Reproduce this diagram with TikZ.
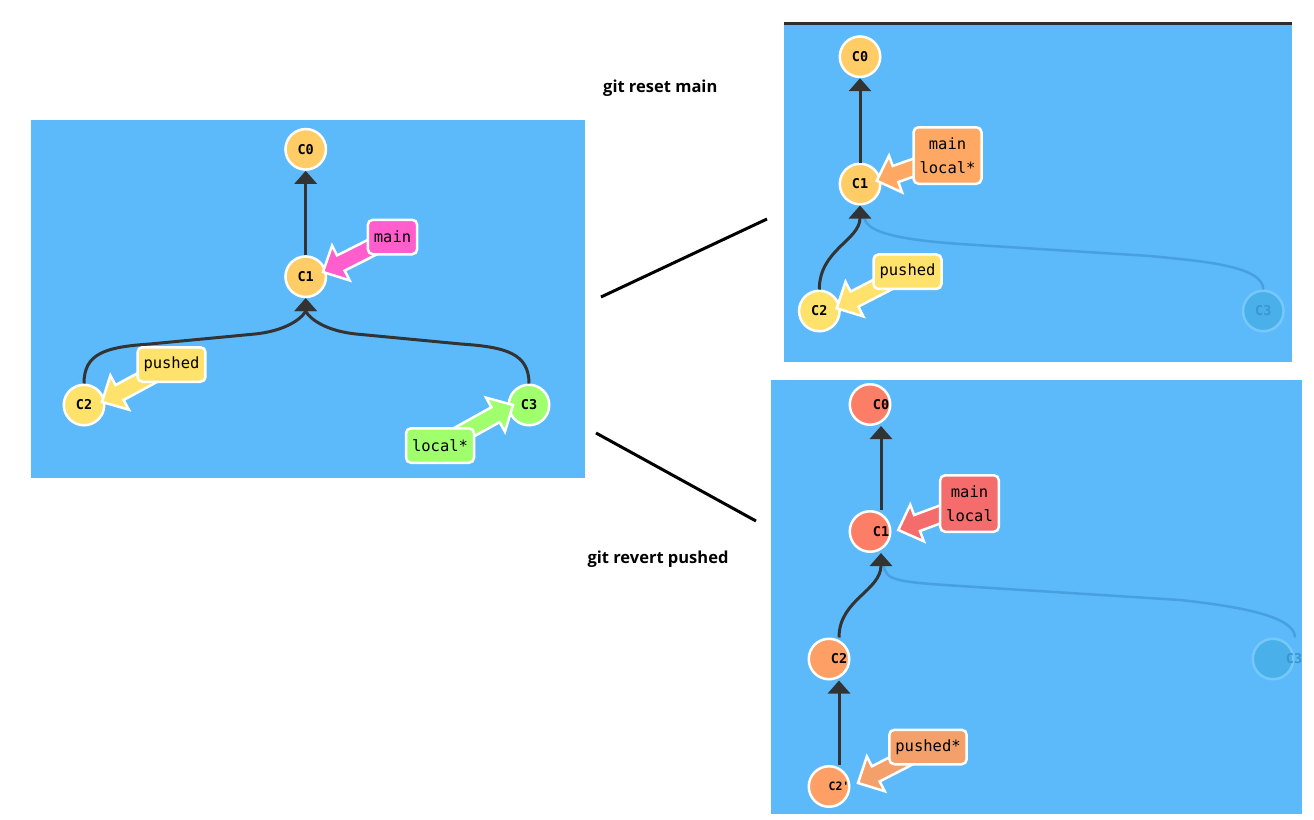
\documentclass[tikz,border=0pt]{standalone}
\usepackage{fontspec}
\setmonofont{DejaVu Sans Mono}
\newfontfamily\cmdfont{Open Sans}
\usetikzlibrary{calc,arrows.meta}

\definecolor{bgblue}{RGB}{92,186,250}
\definecolor{cOrange}{RGB}{255,204,102}
\definecolor{cYellow}{RGB}{255,226,107}
\definecolor{cGreen}{RGB}{160,255,108}
\definecolor{cMagenta}{RGB}{255,94,204}
\definecolor{cOrangeLbl}{RGB}{255,168,100}
\definecolor{cRed}{RGB}{252,126,102}
\definecolor{cSalmon}{RGB}{254,160,102}
\definecolor{cRedLbl}{RGB}{245,108,108}
\definecolor{cPushedStar}{RGB}{244,160,106}
\definecolor{fadeFill}{RGB}{74,176,234}
\definecolor{fadeDraw}{RGB}{118,200,250}
\definecolor{fadeText}{RGB}{60,150,205}
\definecolor{fadeLine}{RGB}{72,160,222}
\definecolor{edgeGray}{RGB}{51,51,51}
\definecolor{topLine}{RGB}{45,45,45}

\newcommand\fatarrow[3]{%
  \coordinate (fah) at ($(#2)!20pt!(#1)$);
  \path[fill=#3, draw=white, line width=2.5pt, line join=miter, miter limit=4]
    ($(#1)!8.5pt!90:(#2)$) -- ($(fah)!8.5pt!-90:(#1)$) -- ($(fah)!19.5pt!-90:(#1)$)
    -- (#2) -- ($(fah)!19.5pt!90:(#1)$) -- ($(fah)!8.5pt!90:(#1)$)
    -- ($(#1)!8.5pt!-90:(#2)$) -- cycle;
}

\tikzset{
  commit/.style={circle, draw=white, line width=2.5pt, minimum size=40.5pt, inner sep=0pt,
    font=\ttfamily\bfseries\fontsize{13.5}{13.5}\selectfont, text=black},
  fadedcommit/.style={commit, fill=fadeFill, draw=fadeDraw, text=fadeText},
  ctext/.style={inner sep=0pt, font=\ttfamily\bfseries\fontsize{13.5}{13.5}\selectfont, text=black},
  edge/.style={draw=edgeGray, line width=3pt, -{Triangle[width=22pt,length=13pt]}},
  fadededge/.style={draw=fadeLine, line width=2.5pt},
  branch/.style={draw=white, line width=2.5pt, rounded corners=5pt, inner xsep=6pt, inner ysep=9pt,
    minimum height=34.5pt, align=center, font=\ttfamily\fontsize{15.5}{24}\selectfont, text=black},
  twoline/.style={minimum height=56.5pt},
  cmd/.style={font=\cmdfont\bfseries\fontsize{16.5}{20}\selectfont, text=black, inner sep=0pt, anchor=base west},
  sep/.style={draw=black, line width=3pt},
}

\begin{document}
\begin{tikzpicture}[x=1pt, y=-1pt]
\useasboundingbox (0,0) rectangle (1314,819);

% ---------------- left panel ----------------
\fill[bgblue] (31,120) rectangle (585,478);
\node[commit, fill=cOrange] (L0) at (305.7,149.3) {C0};
\node[commit, fill=cOrange] (L1) at (305.7,276.7) {C1};
\node[commit, fill=cYellow] (L2) at (84,405) {C2};
\node[commit, fill=cGreen] (L3) at (529,405) {C3};
\draw[edge] (L1) -- (L0);
\draw[edge] (L2.north) .. controls +(0,-30) and +(-45,3) .. (150,344) -- (255,334)
   .. controls +(38,-4) and +(0,15) .. (L1.south);
\draw[edge] (L3.north) .. controls +(0,-30) and +(45,3) .. (461,344) -- (356,334)
   .. controls +(-38,-4) and +(0,15) .. (L1.south);
\coordinate (lmainc) at (392.5,237);
\coordinate (lpushc) at (171.5,364.5);
\coordinate (llocc) at (440,445.5);
\coordinate (lmaint) at (323,272);
\coordinate (lpusht) at (102,402);
\coordinate (lloct) at (513,405);
\fatarrow{lmainc}{lmaint}{cMagenta}
\fatarrow{lpushc}{lpusht}{cYellow}
\fatarrow{llocc}{lloct}{cGreen}
\node[branch, fill=cMagenta] (lmain) at (lmainc) {main};
\node[branch, fill=cYellow] (lpush) at (lpushc) {pushed};
\node[branch, fill=cGreen] (lloc) at (llocc) {local*};

% ---------------- commands and separators ----------------
\node[cmd] (cmdreset) at (603,92.3) {git reset main};
\node[cmd] (cmdrevert) at (587.3,563.3) {git revert pushed};
\coordinate (s1a) at (601,297);
\coordinate (s1b) at (767,219);
\coordinate (s2a) at (596,433);
\coordinate (s2b) at (756,521);
\draw[sep] (s1a) -- (s1b);
\draw[sep] (s2a) -- (s2b);

% ---------------- top right panel ----------------
\fill[bgblue] (784,22) rectangle (1292,361.7);
\coordinate (tla) at (784,23.5);
\coordinate (tlb) at (1292,23.5);
\draw[line width=3pt, draw=topLine] (tla) -- (tlb);
\node[commit, fill=cOrange] (T0) at (860,56.7) {C0};
\node[commit, fill=cOrange] (T1) at (860,184) {C1};
\node[commit, fill=cYellow] (T2) at (819.3,311) {C2};
\node[fadedcommit] (T3) at (1263.3,311) {C3};
\draw[fadededge] (T3.north) .. controls +(0,-24) and +(50,5) .. (1150,256) -- (960,244)
   .. controls +(-70,-5) and +(0,15) .. ($(T1.south)+(4,10)$);
\draw[edge] (T1) -- (T0);
\draw[edge] (T2.north) .. controls +(0,-40) and +(0,35) .. (T1.south);
\coordinate (tmainc) at (947.5,155.5);
\coordinate (tpushc) at (907.5,271.7);
\coordinate (tmaint) at (876.7,180.7);
\coordinate (tpusht) at (836.7,308.3);
\fatarrow{tmainc}{tmaint}{cOrangeLbl}
\fatarrow{tpushc}{tpusht}{cYellow}
\node[branch, twoline, fill=cOrangeLbl] (tmain) at (tmainc) {main\\local*};
\node[branch, fill=cYellow] (tpush) at (tpushc) {pushed};

% ---------------- bottom right panel ----------------
\begin{scope}
\clip (771,380) rectangle (1302,814);
\fill[bgblue] (771,380) rectangle (1302,814);
\node[fadedcommit] (B3) at (1273,659) {};
\node[ctext, text=fadeText] (B3t) at (1294,659) {C3};
\node[commit, fill=cRed] (B0) at (870,404.5) {};
\node[commit, fill=cRed] (B1) at (870,531.5) {};
\node[commit, fill=cSalmon] (B2) at (829,659) {};
\node[commit, fill=cSalmon] (B2p) at (829,786.5) {};
\draw[fadededge] ($(B3.north)+(22,0)$) .. controls +(0,-22) and +(55,6) .. (1180,600) -- (960,586)
   .. controls +(-60,-4) and +(0,16) .. ($(B1.south)+(14,12)$);
\node[ctext] (B0t) at (881,404.5) {C0};
\node[ctext] (B1t) at (881,531.5) {C1};
\node[ctext] (B2t) at (839,659) {C2};
\node[ctext, font=\ttfamily\bfseries\fontsize{11.5}{11.5}\selectfont] (B2pt) at (839,786.5) {C2'};
\draw[edge] ($(B1.north)+(11,0)$) -- ($(B0.south)+(11,0)$);
\draw[edge] ($(B2p.north)+(10,0)$) -- ($(B2.south)+(10,0)$);
\draw[edge] ($(B2.north)+(10,0)$) .. controls +(0,-38) and +(0,38) .. ($(B1.south)+(11,0)$);
\coordinate (bmainc) at (969.5,503.5);
\coordinate (bpushc) at (928,747);
\coordinate (bmaint) at (898.3,530);
\coordinate (bpusht) at (858,783);
\fatarrow{bmainc}{bmaint}{cRedLbl}
\fatarrow{bpushc}{bpusht}{cPushedStar}
\node[branch, twoline, fill=cRedLbl] (bmain) at (bmainc) {main\\local};
\node[branch, fill=cPushedStar] (bpush) at (bpushc) {pushed*};
\end{scope}
\end{tikzpicture}
\end{document}
